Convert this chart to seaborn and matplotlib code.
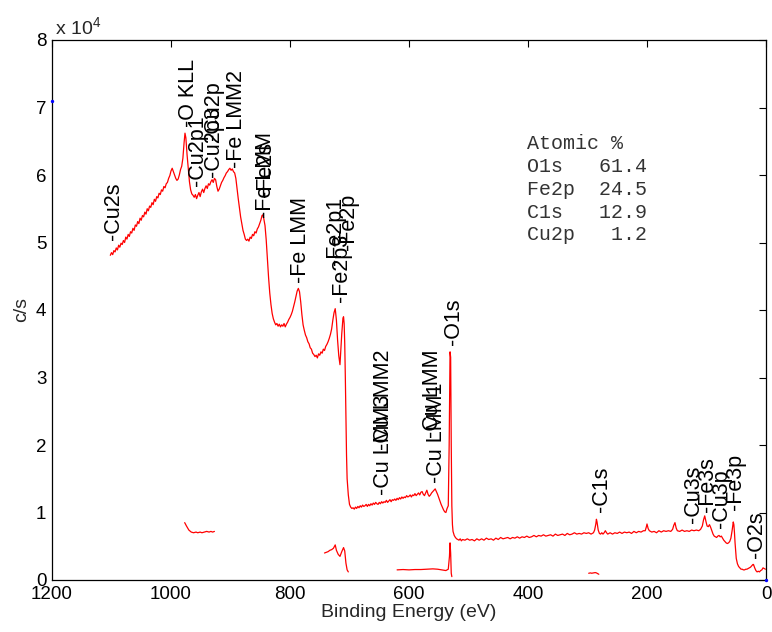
import numpy as np
import pandas as pd
import seaborn as sns
import matplotlib
matplotlib.use("Agg")
import matplotlib.pyplot as plt
from matplotlib.ticker import FixedLocator, FuncFormatter

# ---------------- data (binding energy eV, counts per second) ----------------
survey_high = [
    (1102, 48100), (1100, 48500), (1098, 48200), (1096, 48800), (1094, 48600), (1092, 49200),
    (1090, 48900), (1088, 49600), (1086, 49300), (1084, 49900), (1082, 49700), (1080, 50300),
    (1078, 50000), (1076, 50800), (1074, 50500), (1072, 51200), (1070, 50900), (1068, 51600),
    (1066, 51400), (1064, 52100), (1062, 51800), (1060, 52600), (1058, 52400), (1056, 53100),
    (1054, 52800), (1052, 53600), (1050, 53300), (1048, 54000), (1046, 53800), (1044, 54500),
    (1042, 54200), (1040, 55000), (1038, 54700), (1036, 55400), (1034, 55200), (1032, 55900),
    (1030, 55600), (1028, 56400), (1026, 56100), (1024, 56800), (1022, 56600), (1020, 57300),
    (1018, 57100), (1016, 57800), (1014, 57600), (1012, 58300), (1010, 58100), (1008, 58700),
    (1006, 58900), (1004, 59500), (1002, 59900), (1000, 60600), (998, 61000), (996, 60500),
    (994, 60000), (992, 59500), (990, 59200), (988, 59400), (986, 60000), (984, 60800),
    (982, 61300), (980, 62500), (978, 64800), (976.5, 66200), (975, 65500), (973, 63000),
    (971, 61000), (969, 59000), (967, 57800), (965, 57200), (963, 57000), (961, 56700),
    (959, 57100), (957, 56500), (955, 57000), (953, 57400), (951, 56800), (949, 57500),
    (947, 57900), (945, 57400), (943, 58000), (941, 58400), (939, 58000), (937, 58700),
    (935, 58500), (933, 59000), (931, 59300), (929, 58900), (927, 59500), (925, 59300),
    (923, 58300), (921, 57600), (919, 57900), (917, 58400), (915, 58900), (913, 59200),
    (911, 59600), (909, 59900), (907, 60300), (905, 60500), (903, 60800), (901, 61000),
    (899, 60700), (897, 60900), (895, 60500), (893, 60300), (891, 59500), (889, 58000),
    (887, 56500), (885, 55200), (883, 53800), (881, 52800), (879, 51800), (877, 51200),
    (875, 50500), (873, 50300), (871, 50500), (869, 50200), (867, 50800), (865, 50600),
    (863, 51200), (861, 51000), (859, 51600), (857, 51400), (855, 52000), (853, 52300),
    (851, 52800), (849, 53300), (847, 54000), (845.5, 54100), (844, 53500), (842, 52500),
]
survey_mid = [
    (840, 50400), (838, 47500), (836, 44800), (834, 42500), (832, 40800), (830, 39500),
    (828, 38700), (826, 38200), (824, 37800), (822, 38000), (820, 37600), (818, 37900),
    (816, 37500), (814, 37800), (812, 37600), (810, 38000), (808, 37500), (806, 37900),
    (804, 38200), (802, 38600), (800, 38900), (798, 39300), (796, 39800), (794, 40500),
    (792, 41200), (790, 42000), (788, 42800), (786, 43200), (784, 42700), (782, 41200),
    (780, 39300), (778, 37800), (776, 37000), (774, 36300), (772, 35900), (770, 35300),
    (768, 35000), (766, 34400), (764, 34200), (762, 33600), (760, 33400), (758, 33100),
    (756, 33300), (754, 32900), (752, 33500), (750, 33300), (748, 33800), (746, 33600),
    (744, 34200), (742, 34000), (740, 34600), (738, 34900), (736, 35300), (734, 35800),
    (732, 36400), (730, 37200), (728, 38500), (726, 39600), (724, 40200), (722, 38500),
    (720, 35500), (718, 33200), (716, 31900), (715, 33500), (713, 36500), (711, 38800),
    (710, 39000), (709, 38000), (708, 35000), (707, 30000), (706, 24000), (705, 18500),
    (704, 15000), (702, 12600), (700, 11200),
]
survey_plateau = [
    (698, 10800), (696, 10600), (694, 10700), (692, 10500), (690, 10800), (688, 10600),
    (686, 10900), (684, 10700), (682, 11000), (680, 10800), (678, 11100), (676, 10900),
    (674, 11000), (672, 11200), (670, 10900), (668, 11200), (666, 11000), (664, 11300),
    (662, 11100), (660, 11400), (658, 11200), (656, 11500), (654, 11300), (652, 11200),
    (650, 11500), (648, 11300), (646, 11600), (644, 11400), (642, 11600), (640, 11500),
    (638, 11800), (636, 11500), (634, 11700), (632, 11900), (630, 11600), (628, 11900),
    (626, 11800), (624, 12000), (622, 11800), (620, 12100), (618, 11900), (616, 12200),
    (614, 12000), (612, 12300), (610, 12100), (608, 12300), (606, 12200), (604, 12500),
    (602, 12300), (600, 12400), (598, 12600), (596, 12300), (594, 12600), (592, 12500),
    (590, 12800), (588, 12500), (586, 12700), (584, 12900), (582, 12600), (580, 13000),
    (578, 13100), (576, 12700), (574, 12500), (572, 12900), (570, 13300), (568, 12700),
    (566, 12400), (564, 12600), (562, 12900), (560, 13100), (558, 13300), (556, 13500),
    (554, 13100), (552, 12700), (550, 12200), (548, 11700), (546, 11200), (544, 10800),
    (542, 10400), (540, 10100), (538, 10000), (536, 10600), (534, 11000), (532.5, 20000),
    (531, 33800), (530, 33000), (529, 20000), (528, 11000), (527, 8200), (526, 7200),
]
survey_low = [
    (524, 6600), (522, 6300), (520, 6100), (518, 6000), (516, 5900), (514, 6100), (512, 5800),
    (510, 6000), (506, 5900), (502, 6100), (498, 5900), (494, 6000), (490, 5800), (486, 6100),
    (482, 5900), (478, 6100), (474, 5900), (470, 6200), (466, 6000), (462, 6100), (458, 5900),
    (454, 6200), (450, 6000), (446, 6300), (442, 6100), (438, 6200), (434, 6300), (430, 6100),
    (426, 6300), (422, 6200), (418, 6400), (414, 6200), (410, 6400), (406, 6300), (402, 6500),
    (398, 6300), (394, 6400), (390, 6600), (386, 6400), (382, 6600), (378, 6500), (374, 6700),
    (370, 6500), (366, 6600), (362, 6700), (358, 6500), (354, 6800), (350, 6600), (346, 6700),
    (342, 6800), (338, 6600), (334, 6900), (330, 6700), (326, 6800), (322, 7000), (318, 6800),
    (314, 6900), (310, 6800), (306, 7000), (302, 6900), (298, 7000), (294, 6800), (290, 7000),
    (288, 7400), (286, 8300), (285, 9000), (284, 8600), (282, 7400), (280, 6900), (278, 6800),
    (276, 7000), (274, 6800), (272, 7000), (270, 7300), (268, 7000), (266, 6800), (262, 7000),
    (258, 6800), (254, 7000), (250, 6900), (246, 7100), (242, 6900), (238, 7100), (234, 7000),
    (230, 7100), (226, 6900), (222, 7200), (218, 7000), (214, 7200), (210, 7100), (206, 7300),
    (203, 7300), (201, 7900), (200, 8300), (198, 7600), (196, 7300), (192, 7100), (188, 7200),
    (184, 7000), (180, 7300), (176, 7100), (172, 7300), (168, 7200), (164, 7300), (160, 7200),
    (157, 7500), (155, 8100), (153, 8500), (151, 7700), (149, 7300), (145, 7200), (141, 7400),
    (137, 7200), (133, 7300), (129, 7200), (125, 7400), (121, 7300), (117, 7400), (113, 7300),
    (110, 7500), (107, 8000), (105, 8900), (103, 9500), (101, 8700), (99, 8000), (97, 7900),
    (95, 8200), (93, 7800), (91, 7300), (89, 6800), (87, 6500), (85, 6400), (83, 6300),
    (81, 6500), (79, 6600), (77, 6400), (75, 6500), (73, 6200), (71, 5900), (69, 5700),
    (67, 5500), (65, 5400), (63, 5500), (61, 5700), (59, 6200), (57, 7300), (55, 8600),
    (54, 8200), (53, 7000), (52, 5500), (51, 4300), (50, 3200), (48, 2400), (46, 2000),
    (44, 1800), (42, 1600), (40, 1600), (38, 1500), (36, 1500), (34, 1600), (32, 1600),
    (30, 1700), (28, 1800), (26, 1900), (24, 2100), (22, 2300), (21, 2300), (19, 1800),
    (17, 1400), (15, 1200), (13, 1300), (11, 1200), (9, 1400), (7, 1500), (5, 1800),
    (3, 1700), (1, 1600),
]

cu2p_scan = [(977, 8500), (974, 8000), (970, 7400), (966, 7100), (962, 7000), (958, 7100),
             (955, 7000), (951, 7100), (948, 7000), (944, 7100), (940, 7200), (936, 7100),
             (933, 7200), (930, 7100), (927, 7200)]
fe2p_scan = [(742, 4000), (739, 4100), (736, 4200), (733, 4400), (730, 4500), (727, 4700),
             (724, 5200), (722, 4400), (719, 3800), (716, 3500), (713, 4200), (710, 4800),
             (708, 4300), (706, 2500), (704, 1500), (702, 1200)]
o1s_scan = [(620, 1500), (610, 1550), (600, 1500), (590, 1550), (580, 1550), (570, 1600),
            (560, 1650), (552, 1600), (545, 1500), (538, 1400), (534, 1600), (532, 3500),
            (531, 5500), (530, 4000), (529, 1000), (528, 500)]
c1s_scan = [(298, 1000), (295, 1050), (293, 1000), (290, 1050), (287, 1100), (285, 1050),
            (283, 950), (281, 850)]

marker_ev = [1200, 0]
marker_cps = [71000, 0]

peak_names = ["-Cu2s", "-O KLL", "-Cu2p1", "-Cu2p3", "-Cu2p", "-Fe LMM2", "-Fe LMM", "-Fe2s",
              "-Fe LMM", "-Fe2p1", "-Fe2p3", "-Fe2p", "-Cu LMM3", "-Cu LMM2", "-Cu LMM",
              "-Cu LMM1", "-O1s", "-C1s", "-Cu3s", "-Fe3s", "-Cu3p", "-Fe3p", "-O2s"]
peak_ev = [1097, 971, 956, 929, 929, 890, 842, 842, 782, 723, 714, 701, 643, 643, 561,
           553, 525.5, 276, 122, 99, 74, 52, 16]
peak_cps = [50400, 67100, 58300, 59700, 65200, 61000, 53600, 56800, 44000, 46600, 41200, 48900,
            12600, 19300, 21000, 14400, 34800, 10100, 8400, 10100, 7700, 10400, 3200]

quant_header = "Atomic %"
quant_names = ["O1s", "Fe2p", "C1s", "Cu2p"]
quant_values = [61.4, 24.5, 12.9, 1.2]

x_ticks = [0, 200, 400, 600, 800, 1000, 1200]
y_ticks = [0, 10000, 20000, 30000, 40000, 50000, 60000, 70000, 80000]

# ---------------- style ----------------
sns.set_theme(style="white")
plt.rcParams["font.family"] = ["Liberation Sans", "DejaVu Sans"]
plt.rcParams["mathtext.fontset"] = "custom"
plt.rcParams["mathtext.rm"] = "Liberation Sans"
plt.rcParams["mathtext.it"] = "Liberation Sans"

fig = plt.figure(figsize=(7.72, 6.32), dpi=100)
ax = fig.add_axes([52 / 772, 52 / 632, 714 / 772, 540 / 632])

red = "#ff0000"
survey = pd.DataFrame(survey_high + survey_mid + survey_plateau + survey_low,
                      columns=["ev", "cps"])
sns.lineplot(data=survey, x="ev", y="cps", ax=ax, sort=False, color=red, lw=0.9,
             errorbar=None)
for scan in [cu2p_scan, fe2p_scan, o1s_scan, c1s_scan]:
    d = pd.DataFrame(scan, columns=["ev", "cps"])
    sns.lineplot(data=d, x="ev", y="cps", ax=ax, sort=False, color=red, lw=0.9,
                 errorbar=None)
sns.scatterplot(x=marker_ev, y=marker_cps, ax=ax, color="blue", s=6, linewidth=0,
                clip_on=False, zorder=5)

ax.set_xlim(1200, 0)
ax.set_ylim(0, 80000)
ax.xaxis.set_major_locator(FixedLocator(x_ticks))
ax.yaxis.set_major_locator(FixedLocator(y_ticks))
ax.yaxis.set_major_formatter(FuncFormatter(lambda v, p: f"{v / 1e4:g}"))
ax.tick_params(direction="in", length=5, width=0.8, top=True, right=True,
               labelsize=13.5, colors="black", pad=4)
for s in ax.spines.values():
    s.set_color("black")
    s.set_linewidth(0.9)

ax.set_xlabel("Binding Energy (eV)", fontsize=14, labelpad=1)
ax.set_ylabel("c/s", fontsize=14, labelpad=4)
ax.text(0.004, 1.004, r"x 10$^{4}$", transform=ax.transAxes, ha="left", va="bottom",
        fontsize=14)

for name, ev, cps in zip(peak_names, peak_ev, peak_cps):
    ax.text(ev, cps, name, rotation=90, rotation_mode="anchor", ha="left", va="center",
            fontsize=15.5, color="black")

mono = ["Liberation Mono", "DejaVu Sans Mono"]
qx = 0.665
qy0 = (580 - 144) / 540
dy = 22.7 / 540
ax.text(qx, qy0, quant_header, transform=ax.transAxes, family=mono, fontsize=14.4,
        color="#333333", va="center", ha="left")
for i, (n, v) in enumerate(zip(quant_names, quant_values)):
    line = f"{n:<5}{v:5.1f}"
    ax.text(qx, qy0 - (i + 1) * dy, line, transform=ax.transAxes, family=mono,
            fontsize=14.4, color="#333333", va="center", ha="left")

fig.savefig("out.png", dpi=100)
